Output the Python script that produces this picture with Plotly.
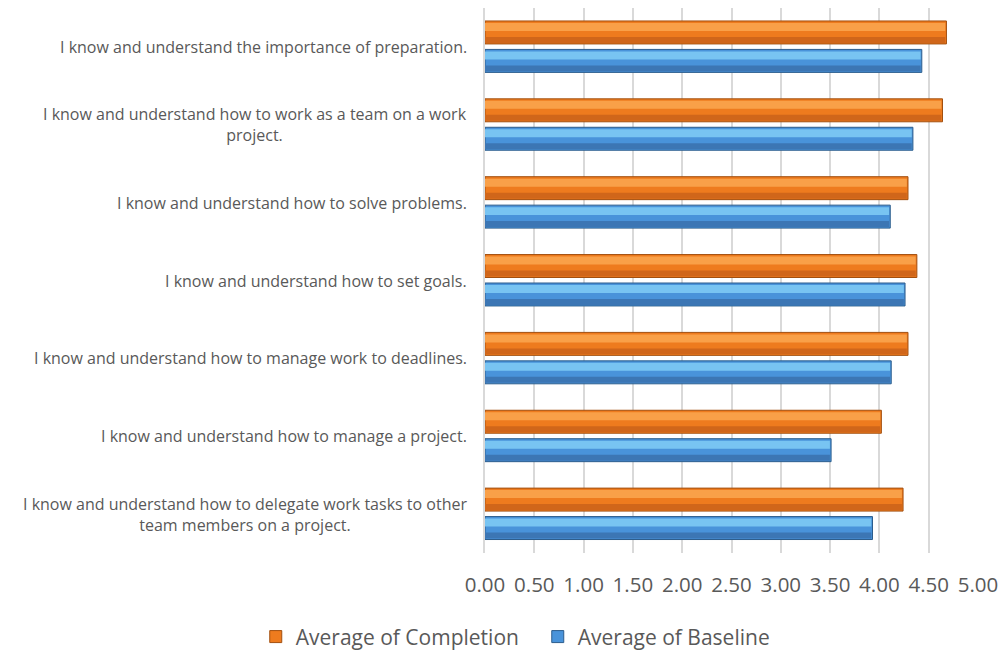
import plotly.graph_objects as go

categories = [
    "I know and understand how to delegate work tasks to other<br>team members on a project.",
    "I know and understand how to manage a project.",
    "I know and understand how to manage work to deadlines.",
    "I know and understand how to set goals.",
    "I know and understand how to solve problems.",
    "I know and understand how to work as a team on a work<br>project.",
    "I know and understand the importance of preparation.",
]
completion = [4.24, 4.02, 4.29, 4.38, 4.29, 4.64, 4.68]
baseline = [3.93, 3.51, 4.12, 4.26, 4.11, 4.34, 4.43]
tick_vals = [0, 0.5, 1, 1.5, 2, 2.5, 3, 3.5, 4, 4.5, 5]
tick_text = ["0.00", "0.50", "1.00", "1.50", "2.00", "2.50", "3.00", "3.50", "4.00", "4.50", "5.00"]

FONT = "Open Sans"
U = 1 / 78.0  # one pixel in category units (approx.)

fig = go.Figure()


def bevel_bar(name, values, base_off, mid, light, dark, edge, legend):
    # main body
    fig.add_trace(go.Bar(
        name=name, y=categories, x=values, orientation="h",
        offset=base_off, width=23 * U,
        marker=dict(color=mid, line=dict(color=edge, width=1)),
        showlegend=legend, legendgroup=name,
    ))
    # top highlight band
    fig.add_trace(go.Bar(
        name=name, y=categories, x=[v - 0.012 for v in values], orientation="h",
        offset=base_off + 13 * U, width=8 * U,
        marker=dict(color=light, line=dict(width=0)),
        showlegend=False, legendgroup=name, hoverinfo="skip",
    ))
    # bottom shade band
    fig.add_trace(go.Bar(
        name=name, y=categories, x=[v - 0.012 for v in values], orientation="h",
        offset=base_off + 1 * U, width=6 * U,
        marker=dict(color=dark, line=dict(width=0)),
        showlegend=False, legendgroup=name, hoverinfo="skip",
    ))


bevel_bar("Average of Completion", completion, 3 * U,
          "#EE7B1E", "#F9A048", "#D0661A", "#A24F0F", True)
bevel_bar("Average of Baseline", baseline, -25.5 * U,
          "#4993DA", "#78C4F2", "#3C76B4", "#2C5D8C", True)

for c in categories:
    fig.add_annotation(
        x=0, xref="paper", y=c, yref="y", text=c, showarrow=False,
        xanchor="right", yanchor="middle", align="center", xshift=-16,
        font=dict(family=FONT, size=16, color="#595959"),
    )

fig.update_layout(
    width=999, height=645,
    margin=dict(l=477, r=28.5, t=0, b=100, autoexpand=False),
    paper_bgcolor="white", plot_bgcolor="white",
    barmode="overlay",
    showlegend=True,
    legend=dict(
        orientation="h", x=-0.465, xref="paper", xanchor="left",
        y=-0.154, yref="paper", yanchor="middle",
        font=dict(family=FONT, size=21, color="#595959"),
        itemwidth=30, entrywidthmode="pixels", entrywidth=237,
    ),
    xaxis=dict(
        range=[0, 5], tickvals=tick_vals, ticktext=tick_text,
        showgrid=True, gridcolor="#D9D9D9", gridwidth=1.5,
        zeroline=False, ticks="", ticklabelstandoff=17,
        tickfont=dict(family=FONT, size=20.5, color="#595959"),
    ),
    yaxis=dict(
        showticklabels=False, showgrid=False, zeroline=False,
        showline=True, linecolor="#D9D9D9", linewidth=1.5,
        range=[-0.5, 6.5],
    ),
)

fig.write_html("out.html")
